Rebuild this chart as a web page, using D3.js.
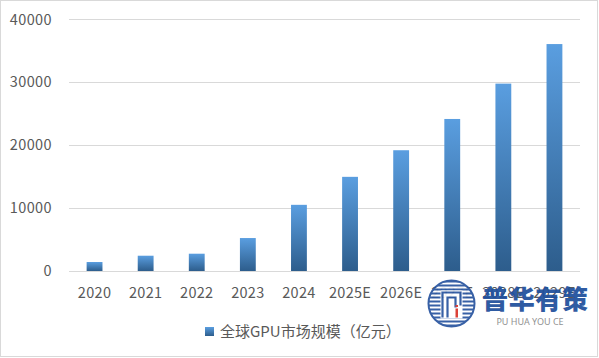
<!DOCTYPE html>
<html><head><meta charset="utf-8">
<script src="https://cdn.jsdelivr.net/npm/d3@7"></script>
<style>html,body{margin:0;padding:0;background:#fff}svg{display:block}</style>
</head><body>
<script>
const categories = ["2020","2021","2022","2023","2024","2025E","2026E","2027E","2028E","2029E"];
const values = [1430, 2430, 2750, 5240, 10520, 14970, 19200, 24170, 29790, 36080];
const yTicks = [0, 10000, 20000, 30000, 40000];
const seriesName = "全球GPU市场规模（亿元）";

const W = 599, H = 358;
const font = "'Noto Sans CJK SC', 'Noto Sans', sans-serif";
const txt = "#595959";
const svg = d3.select("body").append("svg").attr("width", W).attr("height", H);

svg.append("rect").attr("x",0.5).attr("y",0.5).attr("width",597).attr("height",356)
  .attr("fill","#fff").attr("stroke","#d9d9d9");

const defs = svg.append("defs");
const g = defs.append("linearGradient").attr("id","barGrad").attr("x1",0).attr("y1",0).attr("x2",0).attr("y2",1);
g.append("stop").attr("offset","0%").attr("stop-color","#5a9ee0");
g.append("stop").attr("offset","100%").attr("stop-color","#2d5d8c");

const x = d3.scaleBand().domain(categories).range([69, 580]).paddingInner(0.69).paddingOuter(0.345);
const y = d3.scaleLinear().domain([0, 40000]).range([271, 19.4]);

// gridlines
svg.append("g").selectAll("line").data(yTicks).join("line")
  .attr("x1",69).attr("x2",580).attr("y1",d=>Math.round(y(d))+0.5).attr("y2",d=>Math.round(y(d))+0.5)
  .attr("stroke","#d9d9d9").attr("stroke-width",1);

// y axis labels
const yAxis = d3.axisLeft(y).tickValues(yTicks).tickSize(0).tickPadding(0).tickFormat(d3.format("d"));
const ya = svg.append("g").attr("transform","translate(52,0)").call(yAxis);
ya.select(".domain").remove();
ya.selectAll("text").attr("fill",txt).style("font-family",font).style("font-size","14.5px").style("letter-spacing","0.4px");

// bars
svg.append("g").selectAll("rect").data(values).join("rect")
  .attr("x",(d,i)=>x(categories[i])).attr("width",x.bandwidth())
  .attr("y",d=>y(d)).attr("height",d=>y(0)-y(d)).attr("fill","url(#barGrad)");

// x axis labels
const xAxis = d3.axisBottom(x).tickSize(0).tickPadding(0);
const xa = svg.append("g").attr("transform","translate(0,288)").call(xAxis);
xa.select(".domain").remove();
xa.selectAll("text").attr("fill",txt).style("font-family",font).style("font-size","14.5px").style("letter-spacing","0.3px");

// legend
const lg = svg.append("g");
lg.append("rect").attr("x",205).attr("y",327).attr("width",9).attr("height",9).attr("fill","url(#barGrad)");
lg.append("text").attr("x",220).attr("y",332).attr("dy","0.35em").attr("fill",txt)
  .style("font-family",font).style("font-size","15px").text(seriesName);

// watermark
const wm = svg.append("g").attr("opacity",0.93);
const cx = 451.5, cy = 303.5, r = 23;
defs.append("clipPath").attr("id","wmclip").append("circle").attr("cx",cx).attr("cy",cy).attr("r",r);
wm.append("circle").attr("cx",cx).attr("cy",cy).attr("r",r).attr("fill","#fff").attr("stroke","#2a56a0").attr("stroke-width",2);
const stripes = wm.append("g").attr("clip-path","url(#wmclip)");
stripes.selectAll("rect").data(d3.range(cy - r, cy + r, 4)).join("rect")
  .attr("x",cx - r).attr("width",2*r).attr("y",d=>d).attr("height",2).attr("fill","#2a56a0");
wm.append("rect").attr("x",cx-11).attr("y",cy-13).attr("width",22).attr("height",28).attr("fill","#fff");
wm.append("path").attr("d",`M${cx-9},${cy+14} V${cy-11} H${cx+9} V${cy+2} M${cx-4},${cy+14} V${cy-6} H${cx+4} V${cy+4}`)
  .attr("fill","none").attr("stroke","#2a56a0").attr("stroke-width",2.2);
wm.append("rect").attr("x",cx+4).attr("y",cy+5).attr("width",2.5).attr("height",9).attr("fill","#d9342b");
wm.append("rect").attr("x",cx+4).attr("y",cy+1.5).attr("width",2.5).attr("height",2).attr("fill","#d9342b");
wm.append("text").attr("x",482).attr("y",300).attr("dy","0.35em").attr("fill","#1f4f9c")
  .style("font-family","'Noto Sans CJK SC', sans-serif").style("font-weight","900").style("font-size","26px")
  .attr("textLength",106).text("普华有策");
wm.append("text").attr("x",530).attr("y",322).attr("dy","0.35em").attr("text-anchor","middle").attr("fill","#8a8a8a")
  .style("font-family","'Noto Sans', sans-serif").style("font-size","9px").text("PU HUA YOU CE");
</script>
</body></html>
